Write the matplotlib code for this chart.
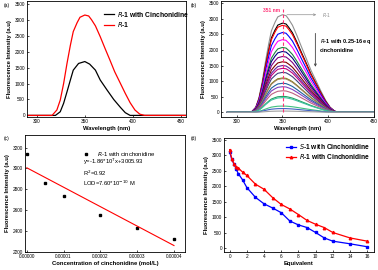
import matplotlib
matplotlib.use("Agg")
import matplotlib.pyplot as plt
import numpy as np

plt.rcParams['font.family'] = ['Liberation Sans', 'DejaVu Sans']
plt.rcParams['font.size'] = 3.6
plt.rcParams['axes.linewidth'] = 0.6

# ---- (a) emission spectra ----
wl_red = [290, 316, 321, 324.5, 328, 331.5, 335, 338, 342, 345, 350, 354, 357, 361, 366,
          371, 376, 381, 387, 392, 397, 402, 407, 412, 455]
int_red = [0, 0, 170, 480, 1000, 1630, 2200, 2630, 2910, 3080, 3150, 3120, 3000, 2810, 2470,
           2100, 1740, 1370, 1000, 690, 400, 170, 40, 0, 0]
wl_black = [290, 319.5, 324.5, 328, 331.5, 335, 338, 343.5, 350, 355, 361, 366, 373, 380,
            387, 392, 397, 455]
int_black = [0, 0, 115, 380, 740, 1110, 1420, 1630, 1690, 1610, 1420, 1110, 800, 500,
             250, 85, 0, 0]

# ---- (b) titration spectra (peak intensity at 351 nm) ----
peaks_b = [3130, 2860, 2790, 2560, 2330, 2080, 1950, 1790, 1620, 1500,
           1410, 1280, 1100, 1080, 930, 820, 690, 510, 470, 200, 120, 40]
colors_b = ['#909090', 'black', 'red', 'blue', 'magenta', '#208040', 'navy', '#800080',
            '#800000', '#6020a0', '#c00080', '#404080', '#808000', '#a08060', '#2060a0',
            '#8040c0', '#c06080', '#20a060', '#40c0a0', '#40c080', '#4060c0', '#a0a0a0']

# ---- (c) linear fit ----
conc_c = [0.0, 0.000005, 0.00001, 0.00002, 0.00003, 0.00004]
int_c = [3142, 2865, 2732, 2552, 2432, 2326]
slope_c = -1.86e7
icpt_c = 3005.93

# ---- (d) titration curves ----
eq_d = [0, 0.25, 0.5, 0.75, 1, 1.5, 2, 3, 4, 5, 6, 7, 8, 9, 10, 11, 12, 14, 16]
s1_d = [3110, 2870, 2720, 2560, 2410, 2210, 1960, 1645, 1435, 1300, 1150, 880, 755, 670, 510, 335, 230, 145, 50]
r1_d = [3185, 2880, 2730, 2640, 2590, 2460, 2350, 2070, 1905, 1635, 1415, 1270, 1090, 900, 775, 670, 510, 335, 230]

fig = plt.figure(figsize=(3.78, 2.7), dpi=100)
W, H = 378.0, 270.0

def make_ax(l, r, t, b):
    ax = fig.add_axes([l / W, 1 - b / H, (r - l) / W, (b - t) / H])
    ax.tick_params(direction='in', length=1.5, width=0.5, pad=1.5, labelsize=3.4)
    return ax

lab_kw = dict(fontsize=4.2, fontweight='bold', labelpad=1.5)

# (a)
ax = make_ax(27, 186, 1, 117)
ax.plot(wl_black, int_black, color='black', lw=0.9, label=r'$\mathit{R}$-1 with Cinchonidine')
ax.plot(wl_red, int_red, color='red', lw=0.9, label=r'$\mathit{R}$-1')
ax.set_xlim(290, 455)
ax.set_ylim(-50, 3590)
ax.set_xticks([300, 350, 400, 450])
ax.set_yticks(range(0, 3501, 500))
ax.set_xlabel('Wavelength (nm)', **lab_kw)
ax.set_ylabel('Fluorescence Intensity (a.u)', **lab_kw)
ax.legend(loc='upper left', frameon=False, handlelength=1.4, handletextpad=0.5,
          bbox_to_anchor=(0.47, 0.95), borderaxespad=0, labelspacing=0.25,
          prop={'weight': 'bold', 'size': 4.9})
fig.text(4 / W, 1 - 7 / H, '(a)', fontsize=3.6)

# (b)
ax = make_ax(221, 374, 1, 117)
base = np.array(int_red) / max(int_red)
for pk, c in zip(peaks_b, colors_b):
    ax.plot(wl_red, base * pk, color=c, lw=0.8)
ax.plot([351, 351], [0, 3300], color='#ff3377', lw=0.8, ls=(0, (3, 2)))
ax.text(347, 3260, '351 nm', color='#ff3377', fontsize=3.6, fontweight='bold', ha='right', va='center')
ax.annotate('', xy=(390, 3130), xytext=(352, 3130),
            arrowprops=dict(arrowstyle='->', color='#909090', lw=0.5))
ax.text(393, 3130, r'$\mathit{R}$-1', color='#909090', fontsize=3.4, va='center')
ax.annotate('', xy=(386, 1370), xytext=(386, 2620),
            arrowprops=dict(arrowstyle='->', color='#404040', lw=0.6))
ax.text(391, 2150, r'$\mathit{R}$-1 with 0.25-16 eq' + '\ncinchonidine', fontsize=3.95,
        fontweight='bold', va='center', linespacing=1.5)
ax.set_xlim(283, 450)
ax.set_ylim(-150, 3570)
ax.set_xticks([300, 350, 400, 450])
ax.set_yticks(range(0, 3501, 500))
ax.set_xlabel('Wavelength (nm)', **lab_kw)
ax.set_ylabel('Fluorescence Intensity (a.u)', **lab_kw)
fig.text(191 / W, 1 - 7 / H, '(b)', fontsize=3.6)

# (c)
ax = make_ax(25, 185, 135, 252)
ax.plot(conc_c, int_c, 's', color='black', ms=1.6, label=r'$\mathit{R}$-1 with cinchonidine')
xf = np.array([conc_c[0], conc_c[-1]])
ax.plot(xf, slope_c * xf + icpt_c, color='red', lw=0.8)
ax.set_xlim(-0.0000005, 0.000043)
ax.set_ylim(2200, 3320)
ax.set_xticks([0, 0.00001, 0.00002, 0.00003, 0.00004])
ax.set_xticklabels(['0.00000', '0.00001', '0.00002', '0.00003', '0.00004'])
ax.set_yticks(range(2200, 3201, 200))
ax.set_xlabel('Concentration of cinchonidine (mol/L)', **lab_kw)
ax.set_ylabel('Fluorescence Intensity (a.u)', **lab_kw)
ax.legend(loc='center left', frameon=False, prop={'size': 4.3}, handletextpad=0.8,
          bbox_to_anchor=(0.33, 0.84), borderaxespad=0)
ax.text(0.36, 0.68, 'y=-1.86*10$^7$x+3005.93\nR$^2$=0.92\nLOD=7.60*10$^{-10}$ M',
        transform=ax.transAxes, fontsize=4.2, va='center', linespacing=1.15)
fig.text(4 / W, 1 - 140 / H, '(c)', fontsize=3.6)

# (d)
ax = make_ax(224, 374, 138, 252)
ax.plot(eq_d, s1_d, '-s', color='blue', lw=0.9, ms=1.6, label=r'$\mathit{S}$-1 with Cinchonidine')
ax.plot(eq_d, r1_d, '-^', color='red', lw=0.9, ms=1.8, label=r'$\mathit{R}$-1 with Cinchonidine')
ax.set_xlim(-0.66, 16.8)
ax.set_ylim(-120, 3560)
ax.set_xticks(range(0, 17, 2))
ax.set_yticks(range(0, 3501, 500))
ax.set_xlabel('Equivalent', **lab_kw)
ax.set_ylabel('Fluorescence Intensity (a.u)', **lab_kw)
ax.legend(loc='upper right', frameon=False, handlelength=1.5, handletextpad=0.4,
          labelspacing=0.15, borderaxespad=0.2, prop={'weight': 'bold', 'size': 4.8})
fig.text(191 / W, 1 - 140 / H, '(d)', fontsize=3.6)

fig.savefig('out.png', dpi=100)
